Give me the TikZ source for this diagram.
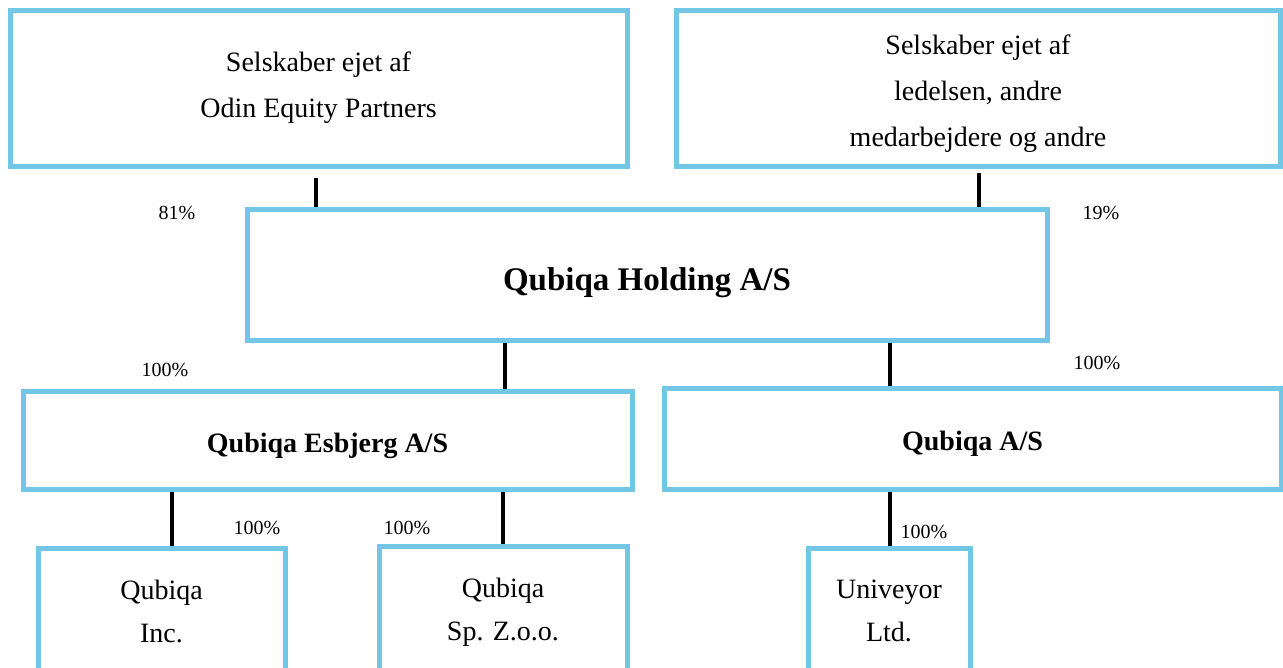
\documentclass[tikz,border=0pt]{standalone}
\usepackage{fontspec}
\setmainfont{Liberation Serif}
\definecolor{boxblue}{RGB}{115,199,230}
\tikzset{
  orgbox/.style={draw=boxblue, line width=5pt, rectangle, inner sep=0pt, align=center,
                 font=\fontsize{28}{46}\selectfont},
  smallbox/.style={orgbox, font=\fontsize{28}{43}\selectfont},
  boldbox/.style={orgbox, font=\fontsize{28}{46}\selectfont\bfseries},
  conn/.style={draw=black, line width=4pt},
  pct/.style={inner sep=0pt, font=\fontsize{20}{24}\selectfont}
}
\begin{document}
\begin{tikzpicture}[x=1pt,y=-1pt]
\clip (0,0) rectangle (1283,667);
\fill[white] (0,0) rectangle (1283,667);
% boxes
\node[orgbox, minimum width=617pt, minimum height=156pt] (A) at (318.5,88) {Selskaber ejet af\\Odin Equity Partners\rule[-4pt]{0pt}{1pt}};
\node[orgbox, minimum width=604pt, minimum height=156pt] (B) at (978,88) {\rule{0pt}{31pt}Selskaber ejet af\\ledelsen, andre\\medarbejdere og andre};
\node[orgbox, minimum width=800pt, minimum height=131pt, font=\fontsize{33}{40}\selectfont\bfseries] (H) at (647,274.5) {\rule{0pt}{40pt}Qubiqa Holding A/S};
\node[boldbox, minimum width=609pt, minimum height=98pt] (E) at (327.5,440) {\rule{0pt}{31pt}Qubiqa Esbjerg A/S};
\node[boldbox, minimum width=617pt, minimum height=101pt] (Q) at (972.5,438.5) {\rule{0pt}{29pt}Qubiqa A/S};
\node[smallbox, minimum width=247pt, minimum height=127pt] (I) at (161.5,611.5) {Qubiqa\\Inc.};
\node[smallbox, minimum width=248pt, minimum height=132pt] (S) at (503,612) {Qubiqa\\Sp. Z.o.o.};
\node[smallbox, minimum width=162pt, minimum height=125pt] (U) at (889,610.5) {Univeyor\\Ltd.};
% connectors
\draw[conn] ([xshift=-2.5pt,yshift=-9pt]A.south) -- ([xshift=-2.5pt]A.south |- H.north);
\draw[conn] ([xshift=1pt,yshift=-4pt]B.south) -- ([xshift=1pt]B.south |- H.north);
\draw[conn] (H.south -| 505,0) -- (E.north -| 505,0);
\draw[conn] (H.south -| 890,0) -- (Q.north -| 890,0);
\draw[conn] (E.south -| 172,0) -- (I.north -| 172,0);
\draw[conn] (E.south -| S.north) -- (S.north);
\draw[conn] (Q.south -| 890,0) -- (U.north -| 890,0);
% percentages
\node[pct] (p81) at (177,213) {81\%};
\node[pct] (p19) at (1101,213) {19\%};
\node[pct] (pE) at (165,370) {100\%};
\node[pct] (pQ) at (1097,363) {100\%};
\node[pct] (pI) at (257,528) {100\%};
\node[pct] (pS) at (407,528) {100\%};
\node[pct] (pU) at (924,532) {100\%};
\end{tikzpicture}
\end{document}
